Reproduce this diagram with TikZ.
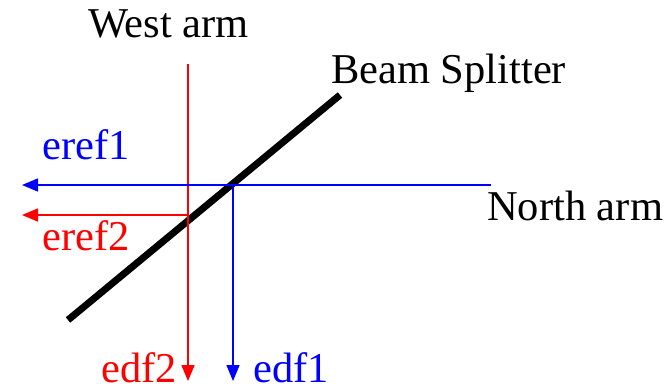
\documentclass[tikz,border=0pt]{standalone}
\usepackage{fontspec}
\setmainfont{Liberation Serif}
\usepackage{tikz}
\usetikzlibrary{arrows.meta}

\begin{document}
\begin{tikzpicture}[x=1pt, y=-1pt,
    lbl/.style={anchor=base west, inner sep=0pt, font=\fontsize{42.5}{50}\selectfont},
    beam/.style={line width=1.5pt, -{Triangle[length=16pt, width=13pt]}}]
    \useasboundingbox (0,0) rectangle (669,389);
    % splitter plate
    \coordinate (bslow) at (68,320);
    \coordinate (bshigh) at (340,95);
    \draw[line width=7pt] (bslow) -- (bshigh);
    % beam points
    \coordinate (wtop)   at (188,64);
    \coordinate (rhit)   at (188,215);
    \coordinate (rout)   at (22,215);
    \coordinate (rdown)  at (188,381);
    \coordinate (nend)   at (491,185);
    \coordinate (bhit)   at (233,185);
    \coordinate (bout)   at (22,185);
    \coordinate (bdown)  at (233,381);
    \draw[beam, red]  (wtop) -- (rdown);
    \draw[beam, red]  (rhit) -- (rout);
    \draw[beam, blue] (nend) -- (bout);
    \draw[beam, blue] (bhit) -- (bdown);
    % labels
    \node[lbl] (west)  at (88,37)   {West arm};
    \node[lbl] (split) at (331,83)  {Beam Splitter};
    \node[lbl] (north) at (487,220) {North arm};
    \node[lbl, blue] (eref1) at (42,159) {eref1};
    \node[lbl, red]  (eref2) at (42,250) {eref2};
    \node[lbl, red]  (edf2)  at (101,382) {edf2};
    \node[lbl, blue] (edf1)  at (253,382) {edf1};
\end{tikzpicture}
\end{document}
